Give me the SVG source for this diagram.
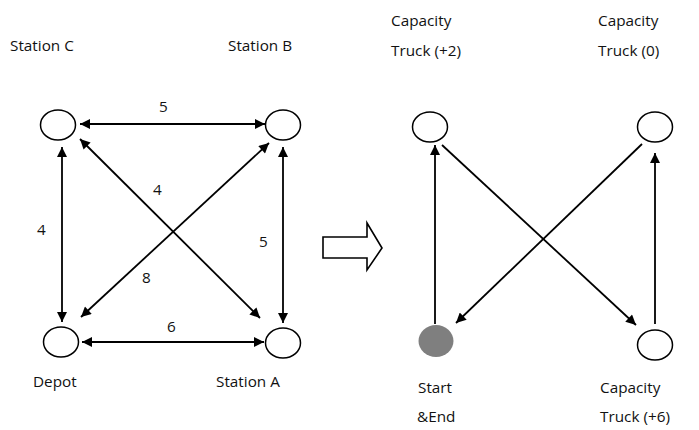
<svg xmlns="http://www.w3.org/2000/svg" width="699" height="430" viewBox="0 0 699 430">
  <style>
    .node { fill: #ffffff; stroke: #000000; stroke-width: 1.5; }
    .start { fill: #7f7f7f; stroke: none; }
    .edge { stroke: #000000; stroke-width: 1.8; fill: none; }
    .lbl { font-family: "Open Sans", "Noto Sans", sans-serif; font-size: 15.3px; fill: #111111; }
    .big { fill: #ffffff; stroke: #000000; stroke-width: 1.6; }
  </style>
  <defs>
    <marker id="arr" viewBox="0 0 10 10" refX="10" refY="5" markerWidth="12" markerHeight="10" markerUnits="userSpaceOnUse" orient="auto-start-reverse">
      <path d="M0,0 L10,5 L0,10 z" fill="#000000"/>
    </marker>
  </defs>

  <rect width="699" height="430" fill="#ffffff"/>

  <!-- left network: depot and stations -->
  <g id="station-c">
    <ellipse class="node" cx="58" cy="125" rx="17.5" ry="15"/>
    <text class="lbl" x="10" y="51">Station C</text>
  </g>
  <g id="station-b">
    <ellipse class="node" cx="283" cy="125" rx="17.5" ry="15"/>
    <text class="lbl" x="228" y="51">Station B</text>
  </g>
  <g id="depot">
    <ellipse class="node" cx="61" cy="342" rx="17.5" ry="15"/>
    <text class="lbl" x="33" y="387">Depot</text>
  </g>
  <g id="station-a">
    <ellipse class="node" cx="283" cy="343" rx="17.5" ry="15"/>
    <text class="lbl" x="216" y="387">Station A</text>
  </g>

  <!-- right network: truck route -->
  <g id="truck-plus2">
    <ellipse class="node" cx="430" cy="127" rx="17.5" ry="15"/>
    <text class="lbl" x="391" y="26">Capacity</text>
    <text class="lbl" x="391" y="56">Truck (+2)</text>
  </g>
  <g id="truck-zero">
    <ellipse class="node" cx="655" cy="127" rx="17.5" ry="15"/>
    <text class="lbl" x="598" y="26">Capacity</text>
    <text class="lbl" x="598" y="56">Truck (0)</text>
  </g>
  <g id="start-end">
    <ellipse class="start" cx="436" cy="341" rx="17.5" ry="16"/>
    <text class="lbl" x="418" y="393">Start</text>
    <text class="lbl" x="417" y="422">&amp;End</text>
  </g>
  <g id="truck-plus6">
    <ellipse class="node" cx="655" cy="345" rx="17.5" ry="15"/>
    <text class="lbl" x="600" y="393">Capacity</text>
    <text class="lbl" x="600" y="422">Truck (+6)</text>
  </g>

  <!-- transformation arrow -->
  <g id="transform-arrow">
    <path class="big" d="M323,237 L367,237 L367,223 L382,248 L367,270 L367,258 L323,258 Z"/>
  </g>

  <g id="connectors">
    <!-- left: two-way links with distances -->
    <line class="edge" x1="80" y1="124" x2="265" y2="124" marker-start="url(#arr)" marker-end="url(#arr)"/>
    <line class="edge" x1="82" y1="342" x2="264" y2="342" marker-start="url(#arr)" marker-end="url(#arr)"/>
    <line class="edge" x1="62" y1="147" x2="62" y2="322" marker-start="url(#arr)" marker-end="url(#arr)"/>
    <line class="edge" x1="283" y1="147" x2="283" y2="323" marker-start="url(#arr)" marker-end="url(#arr)"/>
    <line class="edge" x1="80" y1="139" x2="260" y2="318" marker-start="url(#arr)" marker-end="url(#arr)"/>
    <line class="edge" x1="81" y1="317" x2="269" y2="143" marker-start="url(#arr)" marker-end="url(#arr)"/>
    <text class="lbl" x="159" y="112">5</text>
    <text class="lbl" x="153" y="195">4</text>
    <text class="lbl" x="37" y="235">4</text>
    <text class="lbl" x="259" y="247">5</text>
    <text class="lbl" x="142" y="283">8</text>
    <text class="lbl" x="167" y="332">6</text>

    <!-- right: route of the truck -->
    <line class="edge" x1="435" y1="324" x2="435" y2="145" marker-end="url(#arr)"/>
    <line class="edge" x1="442" y1="145" x2="636" y2="325" marker-end="url(#arr)"/>
    <line class="edge" x1="642" y1="144" x2="456" y2="323" marker-end="url(#arr)"/>
    <line class="edge" x1="655" y1="324" x2="655" y2="153" marker-end="url(#arr)"/>
  </g>
</svg>
